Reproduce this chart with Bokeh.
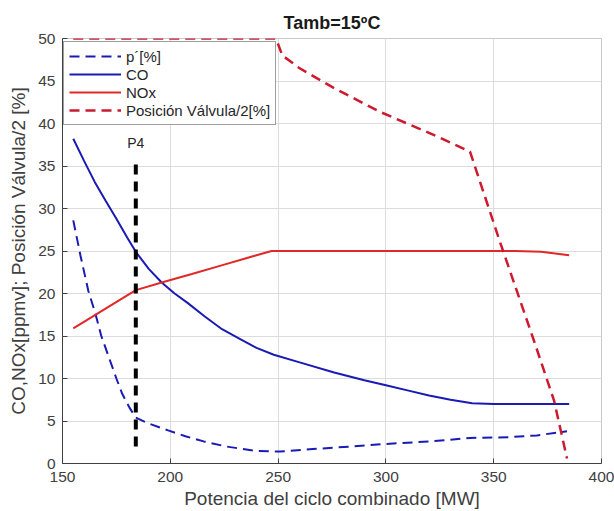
from bokeh.plotting import figure
from bokeh.models import Legend, LegendItem, Label, FixedTicker
from bokeh.embed import file_html
from bokeh.resources import INLINE

# ---- data ----
co_x = [155, 160, 165, 170, 175, 180, 184, 190, 196, 202, 208, 216, 224, 232, 240, 248,
        260, 276, 290, 300, 310, 320, 330, 340, 350, 365, 385]
co_y = [38.2, 35.6, 33.1, 30.9, 28.8, 26.6, 24.9, 22.9, 21.3, 20.0, 18.9, 17.3, 15.8, 14.7,
        13.6, 12.8, 11.9, 10.7, 9.8, 9.2, 8.6, 8.0, 7.5, 7.1, 7.0, 7.0, 7.0]

nox_x = [155, 184, 196, 210, 225, 240, 247, 300, 340, 360, 372, 385]
nox_y = [15.9, 20.4, 21.3, 22.3, 23.4, 24.5, 25.0, 25.0, 25.0, 25.0, 24.9, 24.5]

pp_x = [155, 158.3, 162, 165.3, 168, 171.5, 175, 177.7, 181, 184, 190, 199, 207, 215.5,
        226, 239, 251, 266, 284, 300, 321, 339, 357, 370, 384]
pp_y = [28.6, 24.5, 20.3, 17.6, 15.0, 12.5, 10.0, 8.2, 6.6, 5.4, 4.7, 3.9, 3.2, 2.6,
        2.0, 1.5, 1.4, 1.7, 2.0, 2.3, 2.6, 3.0, 3.1, 3.3, 3.8]

valve_x = [155, 249, 252, 260, 275, 297, 320, 339, 353, 368.6, 378, 384]
valve_y = [50, 50, 48, 46.5, 44.3, 41.4, 38.9, 36.7, 26.0, 14.5, 7.4, 0.6]

p4_x = [184, 184]
p4_y = [2, 36]
p4_label = "P4"
p4_label_y = 37.7

x_ticks = [150, 200, 250, 300, 350, 400]
y_ticks = [0, 5, 10, 15, 20, 25, 30, 35, 40, 45, 50]

labels = ["p´[%]", "CO", "NOx", "Posición Válvula/2[%]"]

FONT = "Liberation Sans"
BLUE = "#1a1ab4"
RED = "#e02828"
RED_D = "#cc1a2e"

p = figure(width=614, height=511, output_backend="svg", toolbar_location=None,
           x_range=(150, 400), y_range=(0, 50),
           min_border_left=62, min_border_right=13, min_border_top=38, min_border_bottom=48)

p.title.text = "Tamb=15ºC"
p.title.align = "center"
p.title.text_font = FONT
p.title.text_font_size = "18px"
p.title.text_font_style = "bold"
p.title.text_color = "#1a1a1a"
p.title.standoff = 12

p.outline_line_color = "#c8c8c8"
p.outline_line_width = 1
p.background_fill_color = "white"
p.border_fill_color = "white"

for ax in (p.xaxis[0], p.yaxis[0]):
    ax.axis_line_color = "#404040"
    ax.major_tick_line_color = "#404040"
    ax.major_tick_in = 5
    ax.major_tick_out = 0
    ax.minor_tick_line_color = None
    ax.major_label_text_font = FONT
    ax.major_label_text_font_size = "15.5px"
    ax.major_label_text_color = "#404040"
    ax.axis_label_text_font = FONT
    ax.axis_label_text_font_size = "19px"
    ax.axis_label_text_font_style = "normal"
    ax.axis_label_text_color = "#404040"

p.xaxis.ticker = FixedTicker(ticks=x_ticks)
p.yaxis.ticker = FixedTicker(ticks=y_ticks)
p.xaxis.axis_label = "Potencia del ciclo combinado [MW]"
p.yaxis.axis_label = "CO,NOx[ppmv]; Posición Válvula/2 [%]"
p.xaxis.major_label_standoff = 8
p.yaxis.major_label_standoff = 7
p.xaxis.axis_label_standoff = 3
p.yaxis.axis_label_standoff = 6

p.xgrid.ticker = FixedTicker(ticks=x_ticks)
p.ygrid.ticker = FixedTicker(ticks=y_ticks)
p.grid.grid_line_color = "#dcdcdc"
p.grid.grid_line_width = 1

r_pp = p.line(pp_x, pp_y, line_color=BLUE, line_width=2, line_dash="10 6")
r_co = p.line(co_x, co_y, line_color=BLUE, line_width=2)
r_nox = p.line(nox_x, nox_y, line_color=RED, line_width=2)
r_valve = p.line(valve_x, valve_y, line_color=RED_D, line_width=2.5, line_dash="10 6")

p.line(p4_x, p4_y, line_color="black", line_width=4, line_dash="10 7")
p.add_layout(Label(x=p4_x[0], y=p4_label_y, text=p4_label, text_align="center",
                   text_baseline="middle", text_font=FONT, text_font_size="14px",
                   text_color="#262626"))

legend = Legend(items=[LegendItem(label=labels[0], renderers=[r_pp]),
                       LegendItem(label=labels[1], renderers=[r_co]),
                       LegendItem(label=labels[2], renderers=[r_nox]),
                       LegendItem(label=labels[3], renderers=[r_valve])],
                location=(1, 338))
legend.border_line_color = "#404040"
legend.border_line_width = 1.5
legend.background_fill_color = "white"
legend.background_fill_alpha = 1
legend.padding = 5
legend.spacing = 0
legend.margin = 0
legend.label_standoff = 5
legend.glyph_width = 52
legend.glyph_height = 18
legend.label_height = 18
legend.label_text_font = FONT
legend.label_text_font_size = "15px"
legend.label_text_color = "#262626"
p.add_layout(legend)

open("out.html", "w").write(file_html(p, INLINE))
